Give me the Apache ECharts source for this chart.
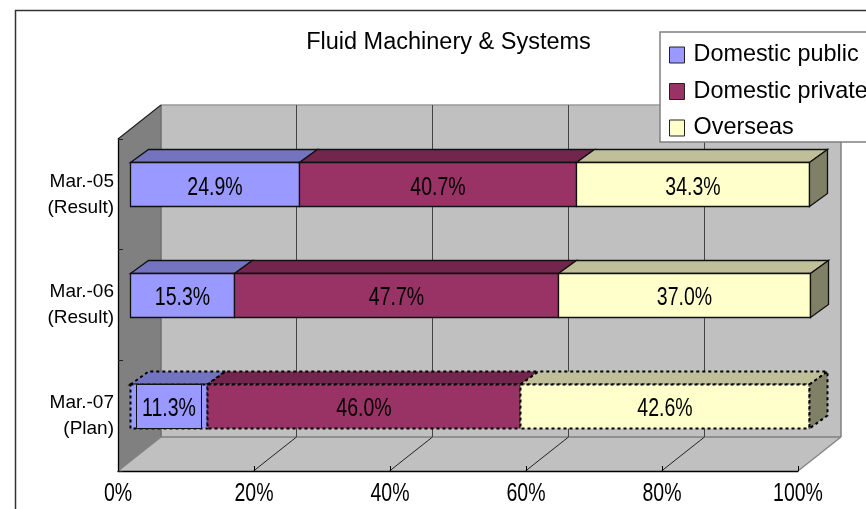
<!DOCTYPE html>
<html><head><meta charset="utf-8">
<style>html,body{margin:0;padding:0;background:#fff;overflow:hidden}#c{width:866px;height:509px}</style>
<script src="https://cdn.jsdelivr.net/npm/echarts@6/dist/echarts.min.js"></script>
</head><body><div id="c"></div>
<script>
var categories = ['Mar.-05\n(Result)', 'Mar.-06\n(Result)', 'Mar.-07\n(Plan)'];
var domesticPublic = [24.9, 15.3, 11.3];
var domesticPrivate = [40.7, 47.7, 46.0];
var overseas = [34.3, 37.0, 42.6];
var xTicks = [0, 20, 40, 60, 80, 100];
var planIndex = 2;

var SANS = '"Liberation Sans",Arial,sans-serif';
var WALL = [43, -34];        // depth of the 3D box
var BAR_FRONT = [12, -10];   // bar front face offset from the front plane
var BAR_DEPTH = [18, -13];   // bar depth
var BAR_H = 44;
var TEXT_SQUEEZE = 0.75;     // the reference's value text is tall and condensed

function poly(points, fill, stroke) {
  return {type: 'polygon', shape: {points: points}, style: {fill: fill, stroke: stroke || null, lineWidth: 1}};
}
function seg(a, b, color, w) {
  return {type: 'line', shape: {x1: a[0], y1: a[1], x2: b[0], y2: b[1]}, style: {stroke: color, lineWidth: w || 1}};
}
function squeezedText(str, x, y) {
  return {type: 'text', x: x, y: y, scaleX: TEXT_SQUEEZE,
    style: {text: str, fill: '#000', font: '26px ' + SANS, align: 'center', verticalAlign: 'middle'}};
}

function wallRender(params) {
  var c = params.coordSys, dx = WALL[0], dy = WALL[1];
  var l = c.x, r = c.x + c.width, t = c.y, b = c.y + c.height;
  return {type: 'group', children: [
    poly([[l + dx, t + dy], [r + dx, t + dy], [r + dx, b + dy], [l + dx, b + dy]], '#C0C0C0'),
    poly([[l, t], [l + dx, t + dy], [l + dx, b + dy], [l, b]], '#808080'),
    poly([[l, b], [l + dx, b + dy], [r + dx, b + dy], [r, b]], '#C0C0C0'),
    seg([l + dx, t + dy], [r + dx, t + dy], '#9A9A9A', 1.5),
    seg([r + dx, t + dy], [r + dx, b + dy], '#808080', 1.5),
    seg([l + dx, b + dy], [r + dx, b + dy], '#808080', 1.5),
    seg([l + dx, t + dy], [l + dx, b + dy], '#6E6E6E', 1.5),
    seg([l, b], [l + dx, b + dy], '#808080', 1.2),
    seg([r, b], [r + dx, b + dy], '#808080', 1.2),
    seg([l, t], [l + dx, t + dy], '#222222', 1.2)
  ]};
}

function gridRender(params, api) {
  var c = params.coordSys, v = api.value(0);
  var x = Math.round(api.coord([v, 0])[0]) - 0.5, b = c.y + c.height;
  return {type: 'group', children: [
    seg([x, b], [x + WALL[0], b + WALL[1]], '#222222', 1),
    seg([x + WALL[0], b + WALL[1]], [x + WALL[0], c.y + WALL[1]], '#444444', 1)
  ]};
}

function tickLabelRender(params, api) {
  var c = params.coordSys, v = api.value(0);
  return squeezedText(v + '%', api.coord([v, 0])[0], c.y + c.height + 23);
}

function barRenderer(front, top, side, isLast) {
  return function (params, api) {
    var cat = api.value(0), start = api.value(1), val = api.value(2);
    var yc = api.coord([0, cat])[1] + BAR_FRONT[1];
    var x0 = Math.round(api.coord([start, cat])[0] + BAR_FRONT[0]) + 0.5;
    var x1 = Math.round(api.coord([start + val, cat])[0] + BAR_FRONT[0]) + 0.5;
    var y0 = Math.round(yc - BAR_H / 2) + 0.5, y1 = y0 + BAR_H;
    var dx = BAR_DEPTH[0], dy = BAR_DEPTH[1];
    var plan = cat === planIndex;
    var st = plan ? {stroke: '#000', lineWidth: 2, lineDash: [3, 3]} : {stroke: '#111', lineWidth: 1.3};
    function face(pts, fill) {
      var s = {fill: fill};
      for (var k in st) s[k] = st[k];
      return {type: 'polygon', shape: {points: pts}, style: s};
    }
    var kids = [
      face([[x0, y0], [x0 + dx, y0 + dy], [x1 + dx, y0 + dy], [x1, y0]], top),
      face([[x0, y0], [x1, y0], [x1, y1], [x0, y1]], front)
    ];
    if (isLast) kids.push(face([[x1, y0], [x1 + dx, y0 + dy], [x1 + dx, y1 + dy], [x1, y1]], side));
    if (plan && params.seriesIndex === firstBarIndex) {
      kids.push({type: 'rect', shape: {x: x0 + 6, y: y0, width: x1 - x0 - 12, height: BAR_H},
        style: {fill: front, stroke: '#111', lineWidth: 1}});
    }
    kids.push(squeezedText(val.toFixed(1) + '%', (x0 + x1) / 2, yc + 3));
    return {type: 'group', children: kids};
  };
}

function stacked(values, previous) {
  return values.map(function (v, i) {
    var s = 0;
    previous.forEach(function (p) { s += p[i]; });
    return [i, s, v];
  });
}

var firstBarIndex = 3;
var chart = echarts.init(document.getElementById('c'), null, {renderer: 'canvas'});
chart.setOption({
  animation: false,
  backgroundColor: '#fff',
  title: {text: 'Fluid Machinery & Systems', left: 448.5, top: 31, textAlign: 'center', padding: 0,
    textStyle: {fontFamily: SANS, fontSize: 23.5, fontWeight: 'normal', color: '#000'}},
  graphic: [{type: 'rect', z: -10, silent: true,
    shape: {x: 15.5, y: 10.5, width: 900, height: 560}, style: {fill: 'none', stroke: '#333', lineWidth: 1.5}}],
  legend: {
    orient: 'vertical', left: 660, top: 32, icon: 'rect', itemWidth: 15, itemHeight: 16, itemGap: 8.5,
    padding: [9, 60, 0, 9], backgroundColor: '#fff', borderColor: '#808080', borderWidth: 1.5,
    itemStyle: {borderColor: '#222', borderWidth: 1},
    textStyle: {fontFamily: SANS, fontSize: 23.4, color: '#000', padding: [2, 0, 0, 4], lineHeight: 26},
    data: ['Domestic public', 'Domestic private', 'Overseas']
  },
  grid: {left: 118, top: 139, width: 680, height: 332, containLabel: false},
  xAxis: {type: 'value', min: 0, max: 100, interval: 20, z: 3,
    axisLine: {show: true, lineStyle: {color: '#000', width: 1.3}},
    axisTick: {show: true, inside: true, length: 5, lineStyle: {color: '#000'}},
    splitLine: {show: false},
    axisLabel: {show: false}},
  yAxis: {type: 'category', data: categories, inverse: true, z: 3,
    axisLine: {show: true, lineStyle: {color: '#000', width: 1.3}},
    axisTick: {show: true, inside: true, length: 5, lineStyle: {color: '#222'}},
    axisLabel: {color: '#000', fontFamily: SANS, fontSize: 19, lineHeight: 26, margin: 4, align: 'right', padding: [9, 0, 0, 0]}},
  series: [
    {type: 'custom', name: 'walls', z: 1, silent: true, clip: false, data: [0], renderItem: wallRender,
      coordinateSystem: 'cartesian2d', encode: {x: 0}},
    {type: 'custom', name: 'gridlines', z: 1, silent: true, clip: false,
      data: xTicks.slice(1, -1).map(function (v) { return [v]; }), renderItem: gridRender,
      coordinateSystem: 'cartesian2d', encode: {x: 0}},
    {type: 'custom', name: 'tick labels', z: 4, silent: true, clip: false,
      data: xTicks.map(function (v) { return [v]; }), renderItem: tickLabelRender,
      coordinateSystem: 'cartesian2d', encode: {x: 0}},
    {type: 'custom', name: 'Domestic public', z: 2, clip: false, itemStyle: {color: '#9999FF'},
      data: stacked(domesticPublic, []), renderItem: barRenderer('#9999FF', '#7373BF', '#4D4D80', false),
      encode: {x: [1, 2], y: 0}},
    {type: 'custom', name: 'Domestic private', z: 2, clip: false, itemStyle: {color: '#993366'},
      data: stacked(domesticPrivate, [domesticPublic]), renderItem: barRenderer('#993366', '#73264D', '#4D1A33', false),
      encode: {x: [1, 2], y: 0}},
    {type: 'custom', name: 'Overseas', z: 2, clip: false, itemStyle: {color: '#FFFFCC'},
      data: stacked(overseas, [domesticPublic, domesticPrivate]), renderItem: barRenderer('#FFFFCC', '#BFBF99', '#808066', true),
      encode: {x: [1, 2], y: 0}}
  ]
});
</script></body></html>
